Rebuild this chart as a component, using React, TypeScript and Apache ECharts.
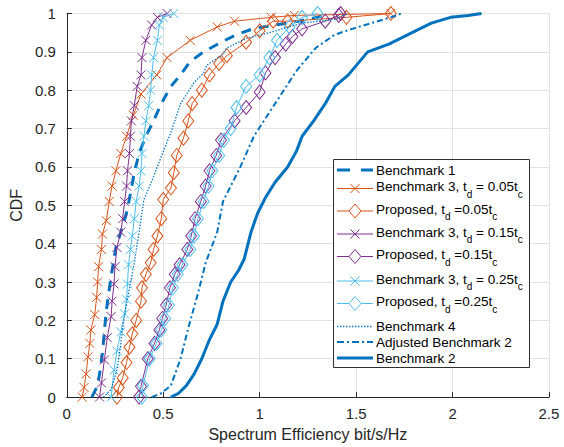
import React, { useEffect, useRef } from 'react';
import * as echarts from 'echarts';

// ---------------- data (x = spectrum efficiency, y = CDF) ----------------
const benchmark1: [number, number][] = [
  [0.13, 0], [0.16, 0.03], [0.17, 0.06], [0.185, 0.115], [0.195, 0.17], [0.205, 0.225], [0.22, 0.28],
  [0.235, 0.33], [0.255, 0.39], [0.28, 0.43], [0.31, 0.48], [0.33, 0.53], [0.35, 0.585], [0.375, 0.635],
  [0.41, 0.68], [0.45, 0.72], [0.49, 0.765], [0.54, 0.81], [0.59, 0.84], [0.64, 0.875], [0.71, 0.9],
  [0.8, 0.925], [0.88, 0.945], [0.965, 0.96], [1.08, 0.97], [1.2, 0.98], [1.3, 0.99], [1.36, 1.0],
];
const benchmark3Td005: [number, number][] = [
  [0.08, 0], [0.09, 0.025], [0.1, 0.06], [0.11, 0.105], [0.12, 0.14], [0.125, 0.175], [0.145, 0.215],
  [0.155, 0.26], [0.16, 0.3], [0.165, 0.34], [0.18, 0.385], [0.185, 0.425], [0.205, 0.46], [0.22, 0.51],
  [0.235, 0.55], [0.255, 0.59], [0.28, 0.635], [0.31, 0.68], [0.345, 0.735], [0.385, 0.79], [0.467, 0.84],
  [0.52, 0.885], [0.64, 0.93], [0.78, 0.965], [0.87, 0.98], [1.06, 0.99], [1.18, 0.995], [1.68, 1.0],
];
const proposedTd005: [number, number][] = [
  [0.26, 0], [0.27, 0.025], [0.29, 0.05], [0.31, 0.09], [0.325, 0.13], [0.34, 0.165], [0.36, 0.2],
  [0.385, 0.25], [0.39, 0.285], [0.41, 0.32], [0.435, 0.35], [0.45, 0.385], [0.47, 0.42], [0.49, 0.465],
  [0.5, 0.515], [0.54, 0.545], [0.555, 0.585], [0.57, 0.63], [0.605, 0.675], [0.63, 0.72], [0.65, 0.765],
  [0.7, 0.8], [0.74, 0.84], [0.79, 0.87], [0.83, 0.89], [0.93, 0.925], [1.0, 0.955], [1.07, 0.98],
  [1.145, 0.98], [1.45, 0.99], [1.68, 1.0],
];
const benchmark3Td015: [number, number][] = [
  [0.17, 0], [0.18, 0.037], [0.195, 0.097], [0.21, 0.155], [0.23, 0.21], [0.235, 0.25], [0.245, 0.295],
  [0.25, 0.34], [0.26, 0.39], [0.28, 0.43], [0.29, 0.465], [0.3, 0.51], [0.31, 0.55], [0.315, 0.59],
  [0.325, 0.635], [0.33, 0.68], [0.335, 0.72], [0.35, 0.76], [0.365, 0.81], [0.385, 0.84], [0.39, 0.885],
  [0.41, 0.93], [0.44, 0.97], [0.47, 0.99], [0.52, 1.0],
];
const proposedTd015: [number, number][] = [
  [0.375, 0], [0.385, 0.028], [0.42, 0.1], [0.455, 0.14], [0.48, 0.175], [0.495, 0.205], [0.515, 0.24],
  [0.535, 0.285], [0.56, 0.32], [0.585, 0.345], [0.625, 0.385], [0.645, 0.42], [0.665, 0.465],
  [0.695, 0.51], [0.72, 0.55], [0.74, 0.59], [0.775, 0.63], [0.8, 0.67], [0.87, 0.72], [0.93, 0.755],
  [1.0, 0.795], [1.03, 0.845], [1.08, 0.885], [1.135, 0.92], [1.17, 0.94], [1.22, 0.96], [1.34, 0.98],
  [1.41, 0.995], [1.42, 1.0],
];
const benchmark3Td025: [number, number][] = [
  [0.23, 0], [0.245, 0.07], [0.26, 0.12], [0.28, 0.17], [0.3, 0.217], [0.31, 0.255], [0.315, 0.295],
  [0.32, 0.345], [0.33, 0.385], [0.34, 0.42], [0.35, 0.465], [0.36, 0.51], [0.375, 0.55], [0.385, 0.59],
  [0.39, 0.635], [0.4, 0.68], [0.41, 0.72], [0.425, 0.76], [0.435, 0.8], [0.44, 0.84], [0.45, 0.885],
  [0.47, 0.93], [0.48, 0.97], [0.5, 0.99], [0.555, 1.0],
];
const proposedTd025: [number, number][] = [
  [0.39, 0], [0.395, 0.03], [0.43, 0.1], [0.465, 0.14], [0.49, 0.175], [0.51, 0.205], [0.53, 0.24],
  [0.55, 0.285], [0.575, 0.32], [0.6, 0.345], [0.64, 0.385], [0.66, 0.42], [0.68, 0.465], [0.71, 0.51],
  [0.735, 0.55], [0.755, 0.59], [0.79, 0.63], [0.815, 0.67], [0.85, 0.7], [0.88, 0.755], [0.93, 0.81],
  [1.0, 0.84], [1.05, 0.885], [1.09, 0.93], [1.155, 0.965], [1.22, 0.99], [1.3, 1.0],
];
const benchmark4: [number, number][] = [
  [0.19, 0], [0.23, 0.02], [0.26, 0.07], [0.275, 0.12], [0.29, 0.18], [0.305, 0.23], [0.32, 0.27],
  [0.35, 0.35], [0.375, 0.43], [0.4, 0.515], [0.43, 0.55], [0.45, 0.575], [0.5, 0.64], [0.54, 0.69],
  [0.59, 0.765], [0.66, 0.82], [0.71, 0.845], [0.725, 0.865], [0.8, 0.89], [0.83, 0.91], [0.93, 0.935],
  [1.05, 0.95], [1.22, 0.975], [1.39, 0.985], [1.45, 1.0],
];
const adjustedBenchmark2: [number, number][] = [
  [0.44, 0], [0.49, 0.01], [0.54, 0.03], [0.59, 0.1], [0.63, 0.18], [0.68, 0.27], [0.72, 0.35],
  [0.78, 0.43], [0.81, 0.51], [0.86, 0.56], [0.9, 0.6], [0.97, 0.68], [1.08, 0.765], [1.19, 0.85],
  [1.29, 0.91], [1.39, 0.945], [1.48, 0.96], [1.58, 0.975], [1.68, 0.99], [1.735, 1.0],
];
const benchmark2: [number, number][] = [
  [0.54, 0], [0.58, 0.01], [0.62, 0.03], [0.66, 0.06], [0.7, 0.1], [0.74, 0.15], [0.78, 0.19],
  [0.81, 0.25], [0.85, 0.3], [0.89, 0.33], [0.92, 0.36], [0.955, 0.43], [0.99, 0.48], [1.03, 0.52],
  [1.08, 0.56], [1.145, 0.6], [1.19, 0.64], [1.22, 0.68], [1.28, 0.72], [1.34, 0.765], [1.39, 0.81],
  [1.46, 0.84], [1.56, 0.9], [1.67, 0.92], [1.79, 0.95], [1.89, 0.975], [1.99, 0.99], [2.08, 0.995],
  [2.15, 1.0],
];

// legend label fragments: even index = normal text, odd index = subscript
const legendLabels: string[][] = [
  ['Benchmark 1'],
  ['Benchmark 3, t', 'd', ' = 0.05t', 'c'],
  ['Proposed, t', 'd', ' =0.05t', 'c'],
  ['Benchmark 3, t', 'd', ' = 0.15t', 'c'],
  ['Proposed, t', 'd', ' =0.15t', 'c'],
  ['Benchmark 3, t', 'd', ' = 0.25t', 'c'],
  ['Proposed, t', 'd', ' =0.25t', 'c'],
  ['Benchmark 4'],
  ['Adjusted Benchmark 2'],
  ['Benchmark 2'],
];
const seriesNames = [
  'Benchmark 1', 'Benchmark 3, td = 0.05tc', 'Proposed, td =0.05tc', 'Benchmark 3, td = 0.15tc',
  'Proposed, td =0.15tc', 'Benchmark 3, td = 0.25tc', 'Proposed, td =0.25tc', 'Benchmark 4',
  'Adjusted Benchmark 2', 'Benchmark 2',
];
const seriesData = [
  benchmark1, benchmark3Td005, proposedTd005, benchmark3Td015, proposedTd015,
  benchmark3Td025, proposedTd025, benchmark4, adjustedBenchmark2, benchmark2,
];

// ---------------- styles ----------------
const BLUE = '#0072BD';
const ORANGE = '#D95319';
const PURPLE = '#7E2F8E';
const CYAN = '#4DBEEE';
const FONT = '"Liberation Sans", Arial, Helvetica, sans-serif';
const X_SYMBOL = 'path://M0,0L10,10M10,0L0,10';

type Style = { color: string; width: number; dash: any; legendDash?: number[]; marker: 'x' | 'd' | null };
const styles: Style[] = [
  { color: BLUE, width: 3, dash: [10, 8], legendDash: [13, 11], marker: null },
  { color: ORANGE, width: 1, dash: 'solid', marker: 'x' },
  { color: ORANGE, width: 1, dash: 'solid', marker: 'd' },
  { color: PURPLE, width: 1, dash: 'solid', marker: 'x' },
  { color: PURPLE, width: 1, dash: 'solid', marker: 'd' },
  { color: CYAN, width: 1, dash: 'solid', marker: 'x' },
  { color: CYAN, width: 1, dash: 'solid', marker: 'd' },
  { color: BLUE, width: 1.3, dash: [1.4, 1.6], legendDash: [1.4, 1.6], marker: null },
  { color: BLUE, width: 2, dash: [6, 3, 2, 3], legendDash: [7, 3, 2, 3], marker: null },
  { color: BLUE, width: 3, dash: 'solid', marker: null },
];

const legendLineY = [170, 188.5, 211, 234, 256.5, 281, 303.5, 326.5, 342, 358];

function textWidth(s: string, size: number): number {
  const ctx = document.createElement('canvas').getContext('2d');
  if (!ctx) return s.length * size * 0.5;
  ctx.font = `${size}px ${FONT}`;
  return ctx.measureText(s).width;
}

function buildLegend(): any[] {
  const els: any[] = [];
  const bx = 333.5, by = 159.5, bw = 196, bh = 208;
  els.push({
    type: 'rect', z: 100, silent: true,
    shape: { x: bx, y: by, width: bw, height: bh },
    style: { fill: '#ffffff', stroke: '#303030', lineWidth: 1 },
  });
  const lx1 = 337, lx2 = 373, cx = 355, tx = 376;
  legendLabels.forEach((frags, i) => {
    const st = styles[i];
    const ly = legendLineY[i];
    els.push({
      type: 'line', z: 101, silent: true,
      shape: { x1: lx1, y1: ly, x2: lx2, y2: ly },
      style: {
        stroke: st.color, lineWidth: st.width,
        lineDash: st.legendDash ? st.legendDash : null,
      },
    });
    if (st.marker === 'x') {
      const h = 4.5;
      els.push({ type: 'line', z: 102, silent: true, shape: { x1: cx - h, y1: ly - h, x2: cx + h, y2: ly + h }, style: { stroke: st.color, lineWidth: 1 } });
      els.push({ type: 'line', z: 102, silent: true, shape: { x1: cx - h, y1: ly + h, x2: cx + h, y2: ly - h }, style: { stroke: st.color, lineWidth: 1 } });
    } else if (st.marker === 'd') {
      els.push({
        type: 'polygon', z: 102, silent: true,
        shape: { points: [[cx, ly - 7], [cx + 6, ly], [cx, ly + 7], [cx - 6, ly]] },
        style: { fill: '#ffffff', stroke: st.color, lineWidth: 1 },
      });
    }
    const hasSub = frags.length > 1;
    const ty = hasSub ? ly - 2 : ly;
    let x = tx;
    frags.forEach((f, k) => {
      const sub = k % 2 === 1;
      const size = sub ? 10 : 13.5;
      els.push({
        type: 'text', z: 103, silent: true,
        x, y: sub ? ty + 7.5 : ty,
        style: { text: f, fill: '#000000', fontSize: size, fontFamily: FONT, align: 'left', verticalAlign: 'middle' },
      });
      x += textWidth(f, size);
    });
  });
  return els;
}

export default function App() {
  const ref = useRef<HTMLDivElement>(null);
  useEffect(() => {
    if (!ref.current) return;
    const chart = echarts.init(ref.current, null, { renderer: 'svg' });
    const axisColor = '#262626';
    const series = seriesData.map((data, i) => {
      const st = styles[i];
      return {
        type: 'line',
        name: seriesNames[i],
        data,
        z: 2 + i,
        silent: true,
        showSymbol: !!st.marker,
        showAllSymbol: true,
        symbol: st.marker === 'x' ? X_SYMBOL : st.marker === 'd' ? 'diamond' : 'none',
        symbolSize: st.marker === 'x' ? 9 : [11, 14],
        lineStyle: { color: st.color, width: st.width, type: st.dash },
        itemStyle: { color: 'rgba(0,0,0,0)', borderColor: st.color, borderWidth: 1 },
        emphasis: { disabled: true },
      };
    });
    chart.setOption({
      animation: false,
      backgroundColor: '#ffffff',
      grid: { left: 62, right: 15, top: 13.5, bottom: 44.5, containLabel: false },
      xAxis: {
        type: 'value', min: 0, max: 2.5, interval: 0.5,
        name: 'Spectrum Efficiency bit/s/Hz', nameLocation: 'middle', nameGap: 27,
        nameTextStyle: { color: axisColor, fontSize: 16, fontFamily: FONT },
        axisLine: { show: true, onZero: false, lineStyle: { color: axisColor, width: 1 } },
        axisTick: { show: true, inside: true, length: 5, lineStyle: { color: axisColor, width: 1 } },
        axisLabel: { color: axisColor, fontSize: 15, fontFamily: FONT, margin: 9 },
        splitLine: { show: true, lineStyle: { color: '#e2e2e2', width: 1 } },
      },
      yAxis: {
        type: 'value', min: 0, max: 1, interval: 0.1,
        name: 'CDF', nameLocation: 'middle', nameGap: 36, nameRotate: 90,
        nameTextStyle: { color: axisColor, fontSize: 16, fontFamily: FONT },
        axisLine: { show: true, onZero: false, lineStyle: { color: axisColor, width: 1 } },
        axisTick: { show: true, inside: true, length: 5, lineStyle: { color: axisColor, width: 1 } },
        axisLabel: {
          color: axisColor, fontSize: 15, fontFamily: FONT, margin: 11,
          formatter: (v: number) => String(Number(v.toFixed(2))),
        },
        splitLine: { show: true, lineStyle: { color: '#e2e2e2', width: 1 } },
      },
      series,
      graphic: { elements: buildLegend() },
    });
    return () => chart.dispose();
  }, []);
  return (
    <div
      ref={ref}
      style={{ position: 'absolute', left: 0, top: 0, width: 564, height: 447, background: '#fff' }}
    />
  );
}
